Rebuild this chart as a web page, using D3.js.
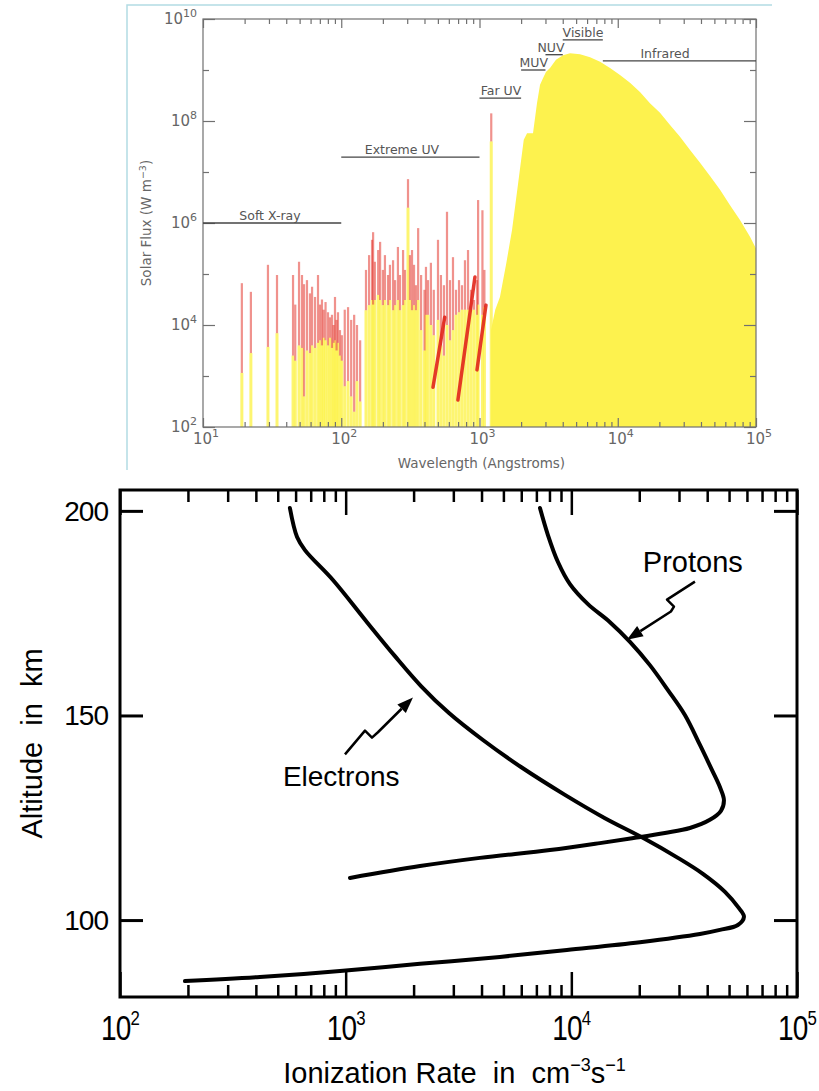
<!DOCTYPE html>
<html>
<head>
<meta charset="utf-8">
<script src="https://cdn.jsdelivr.net/npm/d3@7"></script>
<style>
  html, body { margin: 0; padding: 0; background: #fff; }
  svg { display: block; }
</style>
</head>
<body>
<div id="chart"></div>
<script>
// ---------- top panel : solar spectrum ----------
// continuum (wavelength in Angstrom, log10 of flux)
var contWave = [1211, 1211, 1300, 1406, 1560, 1718, 1897, 2090, 2208, 2438, 2605, 2741, 2879, 3025, 3236, 3574, 4018, 4519, 5334, 6306, 7450, 8795, 10380, 12260, 14480, 17100, 20210, 23880, 28200, 33330, 39370, 46490, 54940, 64890, 76600, 90500, 100000];
var contLogFlux = [2.0, 3.9, 4.3, 4.55, 5.2, 5.86, 6.75, 7.63, 7.76, 7.76, 8.35, 8.71, 8.84, 8.96, 9.04, 9.2, 9.29, 9.33, 9.31, 9.25, 9.16, 9.04, 8.9, 8.75, 8.57, 8.35, 8.16, 7.92, 7.69, 7.43, 7.18, 6.92, 6.65, 6.35, 6.06, 5.73, 5.5];

// emission lines: wavelength, log10 top of line, log10 top of the yellow part
var lineWave = [19.1, 22.2, 29.5, 34.3, 44.8, 46.5, 49.5, 52.0, 53.8, 56.5, 59.4, 61.5, 64.6, 67.9, 70.2, 72.5, 74.5, 77.0, 80.2, 82.9, 85.7, 88.0, 90.1, 92.5, 94.7, 97.9, 101,
  106, 112, 118, 124, 130, 137,
  151, 159, 167, 170, 175, 185, 191, 200, 207, 218, 225, 237, 245, 257, 266, 280, 289, 304, 314, 325, 336,
  347, 360, 378, 400, 410, 424, 445, 467, 501,
  526, 553, 582, 612, 643, 676, 711, 747, 785, 826, 868, 912, 959, 977, 1050, 1085, 1216];
var lineTop = [4.82, 4.65, 5.18, 4.98, 4.98, 4.40, 5.24, 4.98, 4.80, 4.88, 4.62, 4.75, 4.55, 4.98, 4.40, 4.50, 4.30, 4.45, 4.25, 4.15, 4.20, 4.00, 4.55, 4.10, 4.25, 3.90, 3.80,
  4.30, 4.35, 4.10, 4.20, 4.00, 3.70,
  5.08, 5.37, 5.67, 5.82, 5.24, 5.47, 5.63, 5.08, 5.37, 4.98, 5.18, 5.27, 4.88, 5.53, 4.98, 5.47, 5.08, 6.86, 5.37, 5.47, 5.18,
  4.78, 5.90, 4.98, 4.69, 5.14, 4.88, 5.22, 4.69, 5.67,
  4.98, 4.78, 6.22, 4.88, 5.33, 4.69, 4.88, 4.78, 5.27, 5.47, 4.69, 4.49, 4.88, 6.45, 6.25, 5.08, 8.15];
var lineYellowTop = [3.06, 3.45, 3.57, 3.84, 3.40, 3.30, 3.60, 3.55, 2.60, 3.50, 3.45, 3.60, 3.55, 3.65, 3.70, 3.60, 3.75, 3.70, 3.60, 3.75, 3.55, 3.65, 3.70, 3.50, 3.65, 3.40, 3.30,
  2.80, 2.90, 2.60, 2.30, 2.90, 2.50,
  4.29, 4.39, 4.49, 4.40, 4.49, 4.59, 4.49, 4.39, 4.49, 4.39, 4.49, 4.29, 4.39, 4.49, 4.29, 4.39, 4.49, 6.30, 4.49, 4.29, 4.39,
  4.29, 4.49, 3.90, 3.50, 4.20, 4.20, 4.00, 3.80, 4.10,
  3.60, 3.40, 4.00, 3.70, 3.90, 4.20, 4.25, 4.30, 4.30, 4.30, 4.30, 4.30, 4.20, 4.40, 4.20, 4.35, 7.60];

// recombination continua (red streaks): start / end wavelength and log flux
var streakWave = [[461, 560], [698, 927], [959, 1114]];
var streakLogFlux = [[2.78, 4.15], [2.53, 4.94], [3.12, 4.39]];

// spectral regions
var bandNames = ['Soft X-ray', 'Extreme UV', 'Far UV', 'MUV', 'NUV', 'Visible', 'Infrared'];
var bandFrom = [10, 100, 1000, 2000, 3000, 4000, 7800];
var bandTo = [100, 1000, 2000, 3000, 4000, 7800, 100000];
var bandLogFlux = [6.0, 7.29, 8.45, 9.0, 9.3, 9.59, 9.18];
var bandLabelWave = [30.5, 275, 1430, 2470, 3290, 5610, 21980];

// ---------- bottom panel : ionization rate ----------
var electronRate = [566, 609, 660, 878, 1243, 1653, 2157, 2870, 4058, 5982, 9367, 14090, 20750, 29670, 38280, 47960, 55300, 58200, 54700, 45530, 37150, 20140, 9560, 4826, 2134, 973, 417, 194];
var electronAlt = [200.7, 193.6, 190.4, 183.1, 172.8, 164.5, 157.2, 150.6, 144.0, 137.4, 130.6, 124.9, 120.1, 115.2, 111.3, 106.9, 102.9, 100.8, 98.8, 97.6, 96.6, 94.6, 92.7, 91.0, 89.3, 87.6, 86.1, 85.1];
var protonRate = [7261, 7876, 8723, 9860, 11850, 14830, 18190, 22290, 26790, 31860, 37150, 41970, 45530, 47450, 46020, 41120, 33530, 25980, 19130, 13390, 8040, 3936, 2134, 1045];
var protonAlt = [200.7, 194.1, 187.5, 182.1, 177.2, 172.8, 168.0, 162.3, 156.2, 150.1, 142.8, 136.7, 132.5, 129.3, 126.7, 124.5, 122.5, 121.3, 120.1, 118.8, 117.1, 115.2, 113.2, 110.3];

var electronArrowRate = [993, 1218, 1308, 1390, 1987];
var electronArrowAlt = [140.5, 146.3, 144.6, 145.9, 154.4];
var protonArrowRate = [35300, 26540, 28500, 27620, 17630];
var protonArrowAlt = [182.7, 178.3, 176.6, 175.4, 168.5];

var xMajor1 = [1e1, 1e2, 1e3, 1e4, 1e5];
var yMajor1 = [1e2, 1e4, 1e6, 1e8, 1e10];
var yMinor1 = [1e3, 1e5, 1e7, 1e9];
var xMajor2 = [1e2, 1e3, 1e4, 1e5];
var yMajor2 = [100, 150, 200];

var W = 819, H = 1091;
var svg = d3.select('#chart').append('svg')
  .attr('width', W)
  .attr('height', H);

function minorTicks(lo, hi) {
  var out = [];
  for (var e = lo; e < hi; e++) {
    for (var m = 2; m <= 9; m++) out.push(m * Math.pow(10, e));
  }
  return out;
}

function tickGroup(g, axis, color, width) {
  g.call(axis);
  g.select('.domain').remove();
  g.selectAll('.tick line').attr('stroke', color).attr('stroke-width', width);
  g.selectAll('.tick text').remove();
}

function pow10(e) { return Math.pow(10, e); }

// ================= TOP PANEL =================
var x1 = d3.scaleLog().domain([10, 1e5]).range([203, 756]);
var y1 = d3.scaleLog().domain([1e2, 1e10]).range([427, 19]);
var topG = svg.append('g');
var grey = '#707070';

// light blue frame of the pasted picture
topG.append('path')
  .attr('d', 'M127,470V5H772')
  .attr('fill', 'none')
  .attr('stroke', '#b3dce4')
  .attr('stroke-width', 1.5);

var clip = topG.append('clipPath').attr('id', 'clip1');
clip.append('rect')
  .attr('x', x1.range()[0]).attr('y', y1.range()[1])
  .attr('width', x1.range()[1] - x1.range()[0])
  .attr('height', y1.range()[0] - y1.range()[1]);

var plot = topG.append('g').attr('clip-path', 'url(#clip1)');

var yellow = '#fdf24e';
var red = '#e2261b';

// continuum
var cont = contWave.map(function (w, i) { return [w, pow10(contLogFlux[i])]; });
plot.append('path')
  .datum(cont)
  .attr('fill', yellow)
  .attr('d', d3.area()
    .x(function (d) { return x1(d[0]); })
    .y0(y1(1e2))
    .y1(function (d) { return y1(d[1]); }));

// emission lines
var lines = lineWave.map(function (w, i) {
  return { w: w, top: pow10(lineTop[i]), mid: pow10(lineYellowTop[i]) };
});
var lw = 3;
plot.selectAll('rect.ly').data(lines).enter().append('rect')
  .attr('class', 'ly')
  .attr('x', function (d) { return x1(d.w) - lw / 2; })
  .attr('width', lw)
  .attr('y', function (d) { return y1(d.mid); })
  .attr('height', function (d) { return y1(1e2) - y1(d.mid); })
  .attr('fill', yellow)
  .attr('fill-opacity', 0.8);
plot.selectAll('rect.lr').data(lines).enter().append('rect')
  .attr('class', 'lr')
  .attr('x', function (d) { return x1(d.w) - lw / 2 + 0.4; })
  .attr('width', lw - 0.8)
  .attr('y', function (d) { return y1(d.top); })
  .attr('height', function (d) { return Math.max(0, y1(d.mid) - y1(d.top)); })
  .attr('fill', red)
  .attr('fill-opacity', 0.5);

// streaks
var streaks = streakWave.map(function (w, i) {
  return [[w[0], pow10(streakLogFlux[i][0])], [w[1], pow10(streakLogFlux[i][1])]];
});
plot.selectAll('path.streak').data(streaks).enter().append('path')
  .attr('class', 'streak')
  .attr('d', d3.line().x(function (d) { return x1(d[0]); }).y(function (d) { return y1(d[1]); }))
  .attr('stroke', red)
  .attr('stroke-width', 3.5)
  .attr('stroke-linecap', 'round')
  .attr('opacity', 0.9);

// frame
topG.append('rect')
  .attr('x', x1.range()[0]).attr('y', y1.range()[1])
  .attr('width', x1.range()[1] - x1.range()[0])
  .attr('height', y1.range()[0] - y1.range()[1])
  .attr('fill', 'none')
  .attr('stroke', grey)
  .attr('stroke-width', 1.2);

// ticks
var xMinor1 = minorTicks(1, 5);
tickGroup(topG.append('g').attr('transform', 'translate(0,' + y1.range()[0] + ')'),
  d3.axisBottom(x1).tickValues(xMajor1).tickSizeInner(-9).tickSizeOuter(0), grey, 1.2);
tickGroup(topG.append('g').attr('transform', 'translate(0,' + y1.range()[0] + ')'),
  d3.axisBottom(x1).tickValues(xMinor1).tickSizeInner(-5).tickSizeOuter(0), grey, 1.2);
tickGroup(topG.append('g').attr('transform', 'translate(0,' + y1.range()[1] + ')'),
  d3.axisTop(x1).tickValues(xMajor1).tickSizeInner(-9).tickSizeOuter(0), grey, 1.2);
tickGroup(topG.append('g').attr('transform', 'translate(0,' + y1.range()[1] + ')'),
  d3.axisTop(x1).tickValues(xMinor1).tickSizeInner(-5).tickSizeOuter(0), grey, 1.2);
tickGroup(topG.append('g').attr('transform', 'translate(' + x1.range()[0] + ',0)'),
  d3.axisLeft(y1).tickValues(yMajor1).tickSizeInner(-12).tickSizeOuter(0), grey, 1.2);
tickGroup(topG.append('g').attr('transform', 'translate(' + x1.range()[0] + ',0)'),
  d3.axisLeft(y1).tickValues(yMinor1).tickSizeInner(-6).tickSizeOuter(0), grey, 1.2);
tickGroup(topG.append('g').attr('transform', 'translate(' + x1.range()[1] + ',0)'),
  d3.axisRight(y1).tickValues(yMajor1).tickSizeInner(-12).tickSizeOuter(0), grey, 1.2);
tickGroup(topG.append('g').attr('transform', 'translate(' + x1.range()[1] + ',0)'),
  d3.axisRight(y1).tickValues(yMinor1).tickSizeInner(-6).tickSizeOuter(0), grey, 1.2);

var f1 = "'DejaVu Sans', sans-serif";
function powLabel(g, v, x, y, anchor, size, supSize, color, family) {
  var t = g.append('text')
    .attr('x', x).attr('y', y)
    .attr('text-anchor', anchor)
    .attr('font-family', family)
    .attr('font-size', size)
    .attr('fill', color);
  t.append('tspan').text('10');
  t.append('tspan')
    .attr('dy', -size * 0.45)
    .attr('font-size', supSize)
    .text(Math.round(Math.log10(v)));
  return t;
}

xMajor1.forEach(function (v) {
  powLabel(topG, v, x1(v) + 3, 444, 'middle', 15, 11, '#666', f1);
});
yMajor1.forEach(function (v) {
  powLabel(topG, v, 197, y1(v) + 5, 'end', 15, 11, '#666', f1);
});

topG.append('text')
  .attr('x', (x1.range()[0] + x1.range()[1]) / 2 + 2)
  .attr('y', 468)
  .attr('text-anchor', 'middle')
  .attr('font-family', f1)
  .attr('font-size', 13.5)
  .attr('fill', '#666')
  .text('Wavelength (Angstroms)');

var yl = topG.append('text')
  .attr('transform', 'translate(151,' + ((y1.range()[0] + y1.range()[1]) / 2) + ') rotate(-90)')
  .attr('text-anchor', 'middle')
  .attr('font-family', f1)
  .attr('font-size', 13.5)
  .attr('fill', '#666');
yl.append('tspan').text('Solar Flux (W m');
yl.append('tspan').attr('dy', -5).attr('font-size', 9.5).text('−3');
yl.append('tspan').attr('dy', 5).text(')');

// spectral region markers
bandNames.forEach(function (name, i) {
  var yy = y1(pow10(bandLogFlux[i]));
  topG.append('line')
    .attr('x1', x1(bandFrom[i])).attr('x2', x1(bandTo[i]))
    .attr('y1', yy).attr('y2', yy)
    .attr('stroke', '#444')
    .attr('stroke-width', 1.3);
  topG.append('text')
    .attr('x', x1(bandLabelWave[i]))
    .attr('y', yy - 3)
    .attr('text-anchor', 'middle')
    .attr('font-family', f1)
    .attr('font-size', 12.5)
    .attr('fill', '#555')
    .text(name);
});

// ================= BOTTOM PANEL =================
var x2 = d3.scaleLog().domain([1e2, 1e5]).range([120, 797]);
var y2 = d3.scaleLinear().domain([81.2, 205.1]).range([997, 490]);
var bot = svg.append('g');
var f2 = "'Liberation Sans', Arial, Helvetica, sans-serif";

var xMinor2 = minorTicks(2, 5);
tickGroup(bot.append('g').attr('transform', 'translate(0,' + y2.range()[0] + ')'),
  d3.axisBottom(x2).tickValues(xMajor2).tickSizeInner(-25).tickSizeOuter(0), '#000', 2.5);
tickGroup(bot.append('g').attr('transform', 'translate(0,' + y2.range()[0] + ')'),
  d3.axisBottom(x2).tickValues(xMinor2).tickSizeInner(-12).tickSizeOuter(0), '#000', 2.5);
tickGroup(bot.append('g').attr('transform', 'translate(0,' + y2.range()[1] + ')'),
  d3.axisTop(x2).tickValues(xMajor2).tickSizeInner(-25).tickSizeOuter(0), '#000', 2.5);
tickGroup(bot.append('g').attr('transform', 'translate(0,' + y2.range()[1] + ')'),
  d3.axisTop(x2).tickValues(xMinor2).tickSizeInner(-12).tickSizeOuter(0), '#000', 2.5);
tickGroup(bot.append('g').attr('transform', 'translate(' + x2.range()[0] + ',0)'),
  d3.axisLeft(y2).tickValues(yMajor2).tickSizeInner(-23).tickSizeOuter(0), '#000', 3);
tickGroup(bot.append('g').attr('transform', 'translate(' + x2.range()[1] + ',0)'),
  d3.axisRight(y2).tickValues(yMajor2).tickSizeInner(-23).tickSizeOuter(0), '#000', 3);

bot.append('rect')
  .attr('x', x2.range()[0]).attr('y', y2.range()[1])
  .attr('width', x2.range()[1] - x2.range()[0])
  .attr('height', y2.range()[0] - y2.range()[1])
  .attr('fill', 'none')
  .attr('stroke', '#000')
  .attr('stroke-width', 3);

// curves
var curve = d3.line()
  .x(function (d) { return x2(d[0]); })
  .y(function (d) { return y2(d[1]); })
  .curve(d3.curveCatmullRom.alpha(0.5));

var electrons = electronRate.map(function (r, i) { return [r, electronAlt[i]]; });
var protons = protonRate.map(function (r, i) { return [r, protonAlt[i]]; });
[electrons, protons].forEach(function (pts) {
  bot.append('path')
    .datum(pts)
    .attr('d', curve)
    .attr('fill', 'none')
    .attr('stroke', '#000')
    .attr('stroke-width', 4)
    .attr('stroke-linecap', 'round')
    .attr('stroke-linejoin', 'round');
});

// lightning arrows
function arrow(rates, alts) {
  var pts = rates.map(function (r, i) { return [x2(r), y2(alts[i])]; });
  var n = pts.length;
  var tip = pts[n - 1], prev = pts[n - 2];
  var dx = tip[0] - prev[0], dy = tip[1] - prev[1];
  var len = Math.sqrt(dx * dx + dy * dy);
  var ux = dx / len, uy = dy / len;
  var hl = 16, hw = 6;
  var base = [tip[0] - ux * hl, tip[1] - uy * hl];
  var shaft = pts.slice(0, n - 1).concat([base]);
  bot.append('path')
    .attr('d', d3.line()(shaft))
    .attr('fill', 'none')
    .attr('stroke', '#000')
    .attr('stroke-width', 2.5)
    .attr('stroke-linejoin', 'round');
  bot.append('path')
    .attr('d', 'M' + tip[0] + ',' + tip[1] +
      'L' + (base[0] - uy * hw) + ',' + (base[1] + ux * hw) +
      'L' + (base[0] + uy * hw) + ',' + (base[1] - ux * hw) + 'Z')
    .attr('fill', '#000');
}
arrow(electronArrowRate, electronArrowAlt);
arrow(protonArrowRate, protonArrowAlt);

bot.append('text')
  .attr('x', x2(527)).attr('y', y2(132.7))
  .attr('font-family', f2).attr('font-size', 28).attr('fill', '#000')
  .text('Electrons');
bot.append('text')
  .attr('x', x2(20750)).attr('y', y2(185.1))
  .attr('font-family', f2).attr('font-size', 29).attr('fill', '#000')
  .text('Protons');

// tick labels
yMajor2.forEach(function (v) {
  bot.append('text')
    .attr('x', 108).attr('y', y2(v) + 10)
    .attr('text-anchor', 'end')
    .attr('font-family', f2).attr('font-size', 28)
    .attr('letter-spacing', -1)
    .attr('fill', '#000')
    .text(v);
});
xMajor2.forEach(function (v) {
  var g = bot.append('g').attr('transform', 'translate(' + x2(v) + ',1040) scale(0.8,1)');
  var t = g.append('text')
    .attr('x', 0).attr('y', 0)
    .attr('text-anchor', 'middle')
    .attr('font-family', f2).attr('font-size', 35)
    .attr('letter-spacing', -1)
    .attr('fill', '#000');
  t.append('tspan').text('10');
  t.append('tspan').attr('dy', -15).attr('font-size', 21).text(Math.round(Math.log10(v)));
});

// axis titles
var xt = bot.append('text')
  .attr('x', (x2.range()[0] + x2.range()[1]) / 2 - 4)
  .attr('y', 1083)
  .attr('text-anchor', 'middle')
  .attr('font-family', f2).attr('font-size', 29)
  .attr('fill', '#000')
  .style('white-space', 'pre');
xt.append('tspan').text('Ionization Rate  in  cm');
xt.append('tspan').attr('dy', -12).attr('font-size', 18).text('−3');
xt.append('tspan').attr('dy', 12).text('s');
xt.append('tspan').attr('dy', -12).attr('font-size', 18).text('−1');

bot.append('text')
  .attr('transform', 'translate(42,' + ((y2.range()[0] + y2.range()[1]) / 2) + ') rotate(-90)')
  .attr('text-anchor', 'middle')
  .attr('font-family', f2).attr('font-size', 29)
  .attr('fill', '#000')
  .style('white-space', 'pre')
  .text('Altitude  in  km');
</script>
</body>
</html>
